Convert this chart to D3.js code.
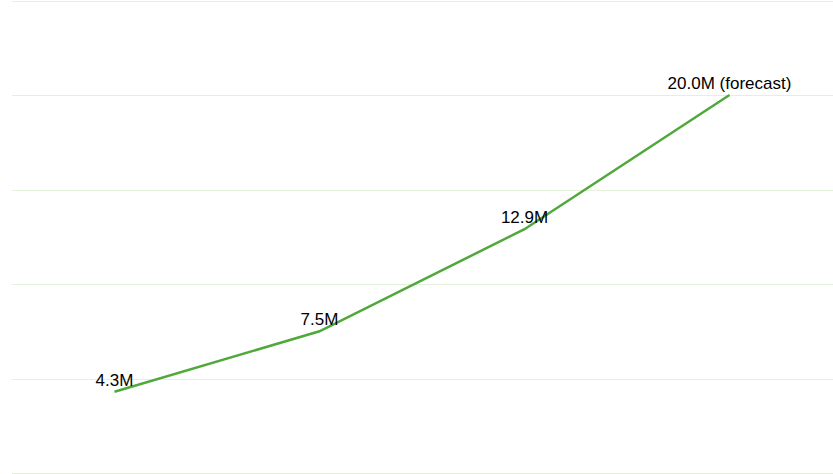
<!DOCTYPE html>
<html lang="en">
<head>
    <meta charset="utf-8">
    <title>Growth, with forecast</title>
    <script src="https://d3js.org/d3.v7.min.js"></script>
    <style>
        body { margin: 0; background: #fff; }
        .grid line { stroke: #e4f0da; stroke-width: 1; }
        .line { fill: none; stroke: #4ea93a; stroke-width: 2.5; }
        .label { font-family: "Liberation Sans", Arial, sans-serif; font-size: 17px; fill: #000; }
    </style>
</head>
<body>
<script>
    const w = 833;
    const h = 474;

    // data
    const periods = ["p1", "p2", "p3", "p4"];
    const values = [4.3, 7.5, 12.9, 20.0];
    const labels = ["4.3M", "7.5M", "12.9M", "20.0M (forecast)"];
    const gridTicks = [0, 5, 10, 15, 20, 25];

    const data = periods.map((p, i) => ({ period: p, value: values[i], label: labels[i] }));

    const xScale = d3.scalePoint()
        .domain(periods)
        .range([12, 832])
        .padding(0.5);

    const yScale = d3.scaleLinear()
        .domain([0, 25])
        .range([h - 1, 0.5]);

    const svg = d3.select("body")
        .append("svg")
        .attr("width", w)
        .attr("height", h);

    //gridlines
    svg.append("g")
        .attr("class", "grid")
        .selectAll("line")
        .data(gridTicks)
        .join("line")
        .attr("x1", 12)
        .attr("x2", w)
        .attr("y1", d => Math.round(yScale(d)) + 0.5)
        .attr("y2", d => Math.round(yScale(d)) + 0.5);

    //line
    const line = d3.line()
        .x(d => xScale(d.period))
        .y(d => yScale(d.value));

    svg.append("path")
        .attr("class", "line")
        .attr("d", line(data));

    //value labels
    svg.selectAll(".label")
        .data(data)
        .join("text")
        .attr("class", "label")
        .attr("x", d => xScale(d.period))
        .attr("y", d => yScale(d.value) - 6)
        .attr("text-anchor", "middle")
        .text(d => d.label);
</script>
</body>
</html>
